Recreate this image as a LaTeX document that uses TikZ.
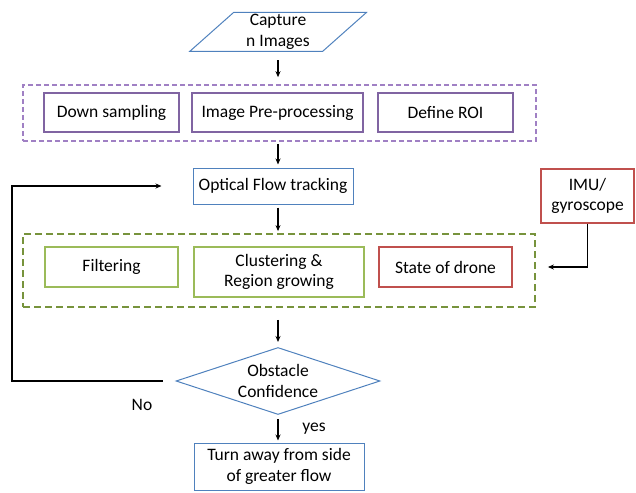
\documentclass[tikz,border=0pt]{standalone}
\usepackage{fontspec}
\setmainfont{Carlito}
\usetikzlibrary{shapes.geometric,arrows.meta}
\definecolor{flowBlue}{RGB}{79,129,189}
\definecolor{prepPurple}{RGB}{128,100,162}
\definecolor{prepDash}{RGB}{160,128,196}
\definecolor{stageGreen}{RGB}{155,187,89}
\definecolor{stageDash}{RGB}{119,147,60}
\definecolor{droneRed}{RGB}{192,80,77}

\begin{document}
\begin{tikzpicture}[
  x=1pt, y=-1pt,
  every box/.style={
    draw,
    rectangle,
    inner sep=0pt,
    align=center,
    font=\fontsize{17.5}{20.5}\selectfont,
  },
  flow box/.style={
    every box/.try,
    draw=flowBlue,
    line width=1pt,
  },
  prep box/.style={
    every box/.try,
    draw=prepPurple,
    line width=1.5pt,
  },
  stage box/.style={
    every box/.try,
    draw=stageGreen,
    line width=1.2pt,
  },
  drone box/.style={
    every box/.try,
    draw=droneRed,
    line width=1.2pt,
  },
  group box/.style={
    draw,
    rectangle,
    inner sep=0pt,
  },
  arr/.style={
    draw=black,
    line width=1.2pt,
    -{Stealth[length=6pt,width=5pt]},
  }
]
\useasboundingbox (0,0) rectangle (636,492);

% input
\node[flow box,shape=trapezium,trapezium left angle=48,trapezium right angle=132,
  trapezium stretches=true,minimum width=177pt,minimum height=39pt]
  (capture) at (278,32) {Capture\\n Images};

% pre-processing stage
\node[group box,draw=prepDash,line width=1.6pt,dash pattern=on 5pt off 3pt,
  minimum width=513pt,minimum height=56pt] (prep) at (279.5,113) {};
\node[prep box,minimum width=135pt,minimum height=39pt] (dsamp) at (111.5,112.5) {Down sampling};
\node[prep box,minimum width=171pt,minimum height=39pt] (preproc) at (277.5,112.5) {Image Pre-processing};
\node[prep box,minimum width=135pt,minimum height=39pt] (roi) at (445.5,112.5) {Define ROI};

% tracking
\node[flow box,minimum width=160pt,minimum height=36pt] (flow) at (273,186) {Optical Flow tracking};
\node[drone box,minimum width=93pt,minimum height=54pt] (imu) at (587.5,196) {IMU/\\gyroscope};

% detection stage
\node[group box,draw=stageDash,line width=1.8pt,dash pattern=on 7pt off 4pt,
  minimum width=512pt,minimum height=73pt] (detect) at (279,270.5) {};
\node[stage box,minimum width=133pt,minimum height=40pt] (filt) at (111.5,267) {Filtering};
\node[stage box,minimum width=170pt,minimum height=50pt] (clus) at (279,272) {Clustering \&\\Region growing};
\node[drone box,minimum width=133pt,minimum height=40pt] (state) at (445.5,267) {State of drone};

% decision
\node[flow box,shape=diamond,aspect=3,minimum width=204pt,minimum height=67pt]
  (obst) at (278,381) {Obstacle\\Confidence};
\node[flow box,minimum width=170pt,minimum height=47pt] (turn) at (279,466.5) {Turn away from side\\of greater flow};

\coordinate (back) at (12,186);

% connectors
\draw[arr,shorten <=8pt,shorten >=7pt] (capture.south -| obst) -- (prep.north -| obst);
\draw[arr,shorten <=2pt,shorten >=3pt] (prep.south -| obst) -- (flow.north -| obst);
\draw[arr,shorten <=3pt,shorten >=2pt] (flow.south -| obst) -- (detect.north -| obst);
\draw[arr,shorten <=12pt,shorten >=5pt] (detect.south -| obst) -- (obst.north);
\draw[arr,shorten <=4pt,shorten >=2pt] (obst.south) -- (turn.north -| obst);
\draw[arr] (imu.south) |- ([xshift=12pt]detect.east |- state);
\draw[arr] ([xshift=-13pt]obst.west) -| (back) -- ([xshift=-31pt]flow.west);

\node[font=\fontsize{17.5}{20.5}\selectfont] (no) at (142,405) {No};
\node[font=\fontsize{17.5}{20.5}\selectfont] (yes) at (314,429) {yes};
\end{tikzpicture}
\end{document}
